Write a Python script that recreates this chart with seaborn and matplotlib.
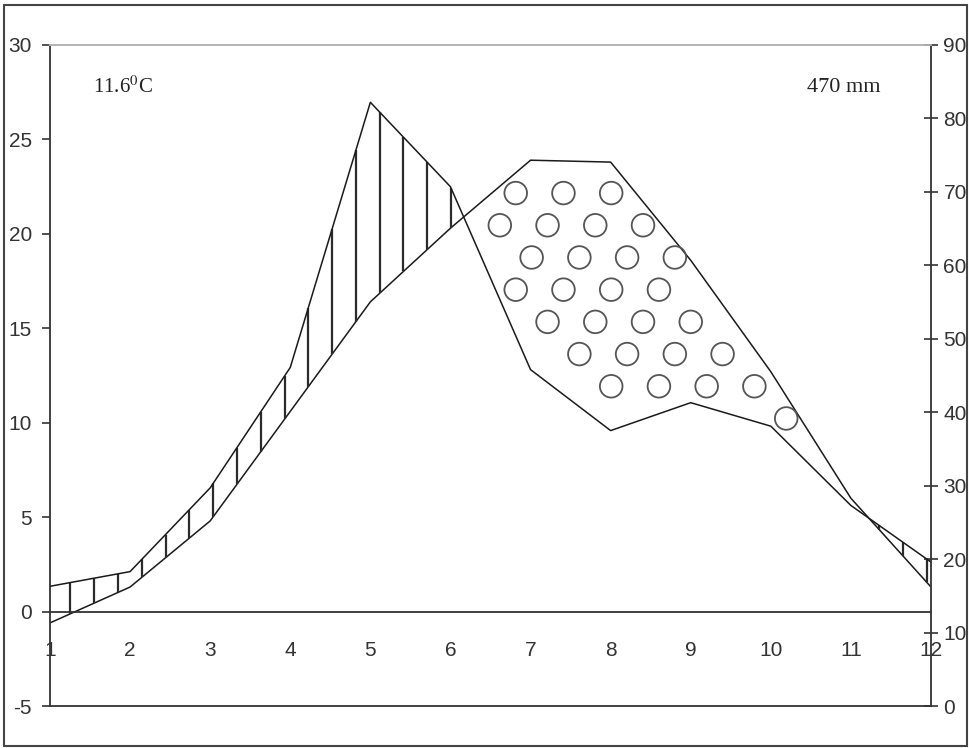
import numpy as np
import pandas as pd
import matplotlib
matplotlib.use("Agg")
import matplotlib.pyplot as plt
from matplotlib.patches import Rectangle
import seaborn as sns

# climate data
months = np.arange(1, 13)
month_labels = [str(m) for m in months]
temp_c = [-0.6, 1.3, 4.8, 10.6, 16.4, 20.3, 23.9, 23.8, 18.6, 12.7, 6.0, 1.3]
precip_mm = [16.3, 18.3, 29.7, 46.1, 82.2, 70.7, 45.8, 37.5, 41.3, 38.1, 27.3, 19.6]
mean_temp_label = "11.6$^{0}$C"
total_precip_label = "470 mm"

temp_ticks = list(range(-5, 31, 5))
precip_ticks = list(range(0, 91, 10))

sns.set_style("white")
plt.rcParams["font.family"] = ["Liberation Sans", "DejaVu Sans"]
plt.rcParams["mathtext.fontset"] = "stix"

W, H = 970, 748
fig = plt.figure(figsize=(W / 100, H / 100), dpi=100)
ax = fig.add_axes([50 / W, 1 - 706 / H, (931 - 50) / W, (706 - 45) / H])
ax2 = ax.twinx()

df = pd.DataFrame({"month": months, "temp": temp_c, "precip": precip_mm})
sns.lineplot(data=df, x="month", y="temp", ax=ax, color="#1a1a1a", lw=1.1)
sns.lineplot(data=df, x="month", y="precip", ax=ax2, color="#1a1a1a", lw=1.1)

t_lo, t_hi = -5, 30
p_lo, p_hi = 0, 90
ax.set_xlim(1, 12)
ax.set_ylim(t_lo, t_hi)
ax2.set_ylim(p_lo, p_hi)

# precipitation expressed in temperature-axis units
p_eq = (np.array(precip_mm) - p_lo) / (p_hi - p_lo) * (t_hi - t_lo) + t_lo
t_arr = np.array(temp_c, dtype=float)

def t_at(x):
    return np.interp(x, months, t_arr)

def p_at(x):
    return np.interp(x, months, p_eq)

# humid period: vertical hatching
hx = np.arange(1.255, 12.0, 0.297)
wet = p_at(hx) > t_at(hx)
ax.vlines(hx[wet], t_at(hx[wet]), p_at(hx[wet]), color="#2b2b2b", lw=1.6, zorder=2)

# dry period: staggered circles
dx, dy = 0.596, 1.705
rx, ry = 12 / 79.8, 12 / 18.83
ang = np.linspace(0, 2 * np.pi, 24, endpoint=False)
cx, cy = [], []
for r in range(10):
    yc = 22.16 - r * dy
    x0 = 6.815 - r * dx / 3
    for k in range(-15, 15):
        xc = x0 + k * dx
        px = xc + 0.8 * rx * np.cos(ang)
        py = yc + 0.8 * ry * np.sin(ang)
        if px.min() < 1 or px.max() > 12:
            continue
        if np.all(py < t_at(px)) and np.all(py > p_at(px)):
            cx.append(xc)
            cy.append(yc)
ax.scatter(cx, cy, s=265, facecolors="none", edgecolors="#555555", linewidths=1.3, zorder=3)

# axes styling
ax.set_xlabel("")
ax.set_ylabel("")
ax2.set_xlabel("")
ax2.set_ylabel("")
ax.set_xticks(months)
ax.set_xticklabels(month_labels)
ax.set_yticks(temp_ticks)
ax.set_yticklabels([str(v) for v in temp_ticks])
ax2.set_yticks(precip_ticks)
ax2.set_yticklabels([str(v) for v in precip_ticks])

dark = "#333333"
ax.spines["bottom"].set_position(("data", 0))
for a in (ax, ax2):
    for s in a.spines.values():
        s.set_color(dark)
        s.set_linewidth(1.3)
    a.spines["top"].set_color("#b5b5b5")
ax.spines["right"].set_visible(False)
ax2.spines["left"].set_visible(False)

ax.tick_params(axis="x", direction="out", length=7, width=1.2, pad=14,
               labelsize=15, colors=dark)
ax.tick_params(axis="y", direction="out", length=6, width=1.2, pad=7,
               labelsize=15, colors=dark)
ax2.tick_params(axis="y", direction="inout", length=10, width=1.2, pad=4,
                labelsize=15, colors=dark)

ax.text(0.049, 0.936, mean_temp_label, transform=ax.transAxes, ha="left", va="center",
        fontsize=15, family="Liberation Serif", color="#222222")
ax.text(0.943, 0.936, total_precip_label, transform=ax.transAxes, ha="right", va="center",
        fontsize=16, family="Liberation Serif", color="#222222")

# outer frame of the picture
fig.add_artist(Rectangle((4 / W, 2 / H), (967 - 4) / W, (743 - 2) / H,
                         transform=fig.transFigure, fill=False, edgecolor="#444444", lw=1.5))

fig.savefig("out.png", dpi=100)
